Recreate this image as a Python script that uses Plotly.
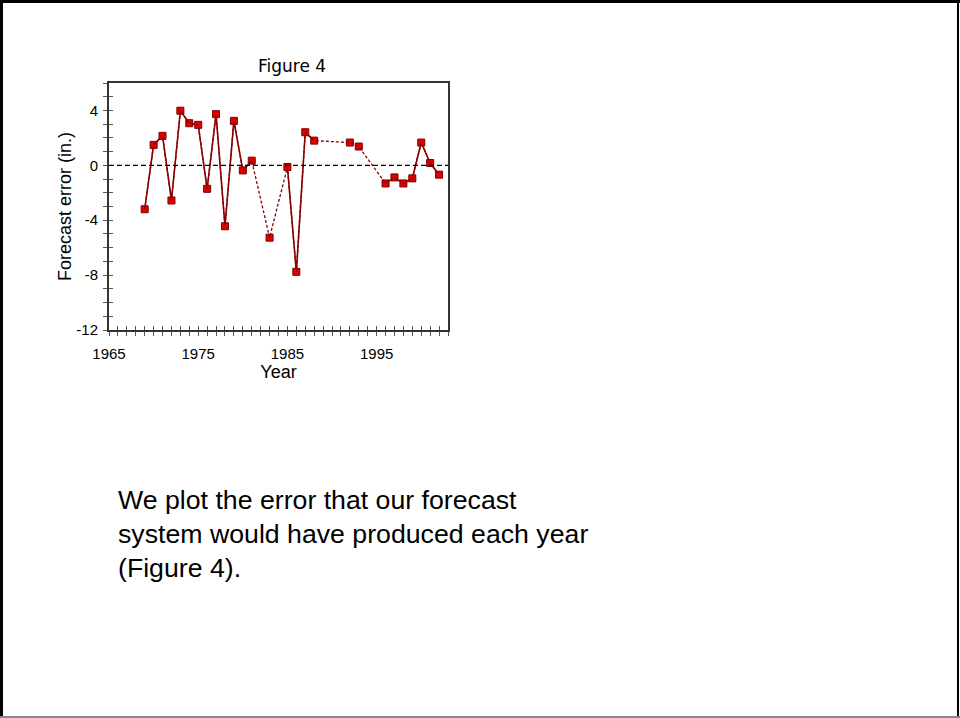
import plotly.graph_objects as go

# ---- data ----
years = [1969, 1970, 1971, 1972, 1973, 1974, 1975, 1976, 1977, 1978, 1979, 1980, 1981,
         1983, 1985, 1986, 1987, 1988, 1992, 1993,
         1996, 1997, 1998, 1999, 2000, 2001, 2002]
errors = [-3.2, 1.49, 2.15, -2.56, 3.98, 3.07, 2.95, -1.71, 3.73, -4.44, 3.24, -0.37, 0.34,
          -5.27, -0.12, -7.76, 2.41, 1.80, 1.66, 1.37,
          -1.32, -0.88, -1.32, -0.95, 1.66, 0.17, -0.68]
# runs of consecutive years joined with a solid line
solid_runs = [(1969, 1981), (1985, 1988), (1996, 2002)]

x_ticks = [1965, 1975, 1985, 1995]
y_ticks = [-12, -8, -4, 0, 4]
y_tick_labels = ["-12", "-8", "-4", "0", "4"]

title_text = "Figure 4"
x_title = "Year"
y_title = "Forecast error (in.)"
caption_lines = ["We plot the error that our forecast",
                 "system would have produced each year",
                 "(Figure 4)."]

# ---- build solid-line series with breaks between runs ----
sx, sy = [], []
for a, b in solid_runs:
    for yr, v in zip(years, errors):
        if a <= yr <= b:
            sx.append(yr)
            sy.append(v)
    sx.append(None)
    sy.append(None)

LINE = "#8B0000"
FONT = "Liberation Sans, Arial, sans-serif"
WIDEFONT = "DejaVu Sans, Verdana, sans-serif"

# plot area in pixels
L, R, T, B = 109, 448, 83, 330
W, H = 960, 718
pw, ph = R - L, B - T
def px(x): return (x - L) / pw
def py(y): return (B - y) / ph

fig = go.Figure()

# dashed connecting line through all points (on overlay axes)
fig.add_trace(go.Scatter(x=years, y=errors, mode="lines",
                         line=dict(color=LINE, width=1.3, dash="3px,2px"),
                         xaxis="x2", yaxis="y2", showlegend=False, hoverinfo="skip"))
# solid runs
fig.add_trace(go.Scatter(x=sx, y=sy, mode="lines", connectgaps=False,
                         line=dict(color=LINE, width=1.6), showlegend=False))
# markers
fig.add_trace(go.Scatter(x=years, y=errors, mode="markers",
                         marker=dict(symbol="square", size=7, color="#E00000",
                                     line=dict(color="#7A0000", width=1)),
                         showlegend=False))

xr = [1965, 2003]
yr_ = [-12, 6]
tickfont = dict(family=FONT, size=15, color="black")

fig.update_layout(
    width=W, height=H,
    margin=dict(l=L, r=W - R, t=T, b=H - B),
    paper_bgcolor="white", plot_bgcolor="white",
    font=dict(family=FONT, color="black"),
    xaxis=dict(range=xr, tickvals=x_ticks, ticks="outside", ticklen=4, tickwidth=1,
               tickcolor="#555", showgrid=False, zeroline=False,
               showline=True, linecolor="#333", linewidth=2, mirror=True,
               minor=dict(dtick=1, ticks="outside", ticklen=4, tickcolor="#555", showgrid=False),
               tickfont=tickfont, ticklabelstandoff=5,
               title=dict(text=x_title, font=dict(family=FONT, size=18), standoff=0)),
    yaxis=dict(range=yr_, tickvals=y_ticks, ticktext=y_tick_labels,
               ticks="outside", ticklen=4, tickwidth=1,
               tickcolor="#555", showgrid=False, zeroline=False,
               showline=True, linecolor="#333", linewidth=2, mirror=True,
               minor=dict(dtick=1, ticks="outside", ticklen=4, tickcolor="#555", showgrid=False),
               tickfont=tickfont, ticklabelstandoff=2,
               title=dict(text=y_title, font=dict(family=FONT, size=18), standoff=0)),
    xaxis2=dict(range=xr, overlaying="x", side="bottom", tickvals=x_ticks,
                ticks="inside", ticklen=4, tickcolor="#555", showticklabels=False,
                showgrid=False, zeroline=False, showline=False,
                minor=dict(dtick=1, ticks="inside", ticklen=4, tickcolor="#555", showgrid=False)),
    yaxis2=dict(range=yr_, overlaying="y", side="left", tickvals=y_ticks,
                ticks="inside", ticklen=4, tickcolor="#555", showticklabels=False,
                showgrid=False, zeroline=False, showline=False,
                minor=dict(dtick=1, ticks="inside", ticklen=4, tickcolor="#555", showgrid=False)),
)

# dashed zero line
fig.add_hline(y=0, line=dict(color="black", width=1.3, dash="5px,3px"))

# title
fig.add_annotation(text=title_text, xref="paper", yref="paper",
                   x=px(292), y=py(66), xanchor="center", yanchor="middle",
                   showarrow=False, font=dict(family=WIDEFONT, size=17, color="black"))

# caption lines
for i, line in enumerate(caption_lines):
    fig.add_annotation(text=line, xref="paper", yref="paper",
                       x=px(116), y=py(500 + 34 * i), xanchor="left", yanchor="middle",
                       showarrow=False, font=dict(family=FONT, size=26.7, color="black"))

# slide frame
fig.add_shape(type="line", xref="paper", yref="paper", x0=px(1.5), x1=px(1.5), y0=py(0), y1=py(718),
              line=dict(color="black", width=3), layer="above")
fig.add_shape(type="line", xref="paper", yref="paper", x0=px(0), x1=px(960), y0=py(1.5), y1=py(1.5),
              line=dict(color="black", width=3), layer="above")
fig.add_shape(type="line", xref="paper", yref="paper", x0=px(958), x1=px(958), y0=py(0), y1=py(718),
              line=dict(color="black", width=2), layer="above")
fig.add_shape(type="line", xref="paper", yref="paper", x0=px(0), x1=px(960), y0=py(717), y1=py(717),
              line=dict(color="#888", width=2), layer="above")

fig.write_html("out.html", config={"displayModeBar": False},
               post_script="document.body.style.margin='0';document.body.style.overflow='hidden';")
